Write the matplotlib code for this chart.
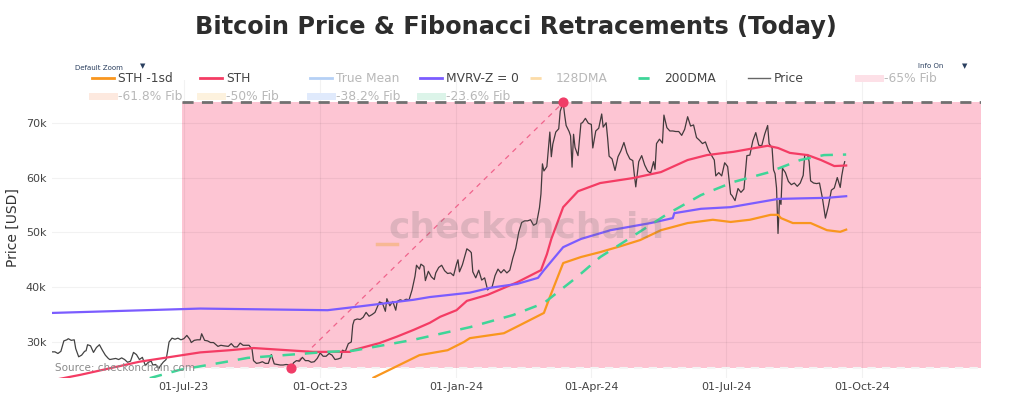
import pandas as pd
import matplotlib.pyplot as plt
import matplotlib.dates as mdates
from matplotlib.lines import Line2D

# Data (values in thousands of USD)

price_dates = [
    "2023-04-03", "2023-04-05", "2023-04-07", "2023-04-09", "2023-04-11", "2023-04-13", "2023-04-14",
    "2023-04-16", "2023-04-18", "2023-04-19", "2023-04-21", "2023-04-23", "2023-04-25", "2023-04-26",
    "2023-04-27", "2023-04-29", "2023-05-01", "2023-05-03", "2023-05-05", "2023-05-07", "2023-05-09",
    "2023-05-11", "2023-05-12", "2023-05-14", "2023-05-16", "2023-05-18", "2023-05-20", "2023-05-22",
    "2023-05-24", "2023-05-26", "2023-05-28", "2023-05-30", "2023-06-01", "2023-06-03", "2023-06-05",
    "2023-06-07", "2023-06-09", "2023-06-10", "2023-06-12", "2023-06-14", "2023-06-15", "2023-06-17",
    "2023-06-19", "2023-06-20", "2023-06-21", "2023-06-23", "2023-06-25", "2023-06-27", "2023-06-29",
    "2023-07-01", "2023-07-03", "2023-07-05", "2023-07-06", "2023-07-08", "2023-07-10", "2023-07-12",
    "2023-07-13", "2023-07-15", "2023-07-17", "2023-07-19", "2023-07-21", "2023-07-24", "2023-07-26",
    "2023-07-28", "2023-07-31", "2023-08-02", "2023-08-04", "2023-08-06", "2023-08-08", "2023-08-10",
    "2023-08-12", "2023-08-14", "2023-08-16", "2023-08-17", "2023-08-19", "2023-08-21", "2023-08-23",
    "2023-08-25", "2023-08-27", "2023-08-29", "2023-08-31", "2023-09-02", "2023-09-04", "2023-09-06",
    "2023-09-08", "2023-09-10", "2023-09-11", "2023-09-13", "2023-09-15", "2023-09-17", "2023-09-19",
    "2023-09-21", "2023-09-23", "2023-09-25", "2023-09-27", "2023-09-29", "2023-10-01", "2023-10-03",
    "2023-10-05", "2023-10-07", "2023-10-09", "2023-10-11", "2023-10-13", "2023-10-15", "2023-10-16",
    "2023-10-18", "2023-10-20", "2023-10-22", "2023-10-23", "2023-10-24", "2023-10-26", "2023-10-28",
    "2023-10-30", "2023-11-01", "2023-11-03", "2023-11-05", "2023-11-07", "2023-11-09", "2023-11-10",
    "2023-11-12", "2023-11-14", "2023-11-15", "2023-11-17", "2023-11-19", "2023-11-21", "2023-11-22",
    "2023-11-24", "2023-11-26", "2023-11-28", "2023-11-30", "2023-12-02", "2023-12-04", "2023-12-05",
    "2023-12-07", "2023-12-08", "2023-12-10", "2023-12-11", "2023-12-13", "2023-12-15", "2023-12-17",
    "2023-12-18", "2023-12-20", "2023-12-22", "2023-12-24", "2023-12-26", "2023-12-28", "2023-12-30",
    "2024-01-01", "2024-01-02", "2024-01-03", "2024-01-05", "2024-01-08", "2024-01-10", "2024-01-11",
    "2024-01-12", "2024-01-14", "2024-01-16", "2024-01-18", "2024-01-20", "2024-01-22", "2024-01-23",
    "2024-01-25", "2024-01-27", "2024-01-29", "2024-01-31", "2024-02-02", "2024-02-04", "2024-02-06",
    "2024-02-08", "2024-02-10", "2024-02-12", "2024-02-14", "2024-02-16", "2024-02-18", "2024-02-20",
    "2024-02-22", "2024-02-24", "2024-02-26", "2024-02-27", "2024-02-28", "2024-02-29", "2024-03-02",
    "2024-03-04", "2024-03-05", "2024-03-06", "2024-03-08", "2024-03-10", "2024-03-11", "2024-03-13",
    "2024-03-14", "2024-03-15", "2024-03-17", "2024-03-18", "2024-03-19", "2024-03-20", "2024-03-21",
    "2024-03-23", "2024-03-25", "2024-03-26", "2024-03-28", "2024-03-30", "2024-04-01", "2024-04-02",
    "2024-04-04", "2024-04-06", "2024-04-08", "2024-04-09", "2024-04-11", "2024-04-12", "2024-04-13",
    "2024-04-15", "2024-04-17", "2024-04-19", "2024-04-21", "2024-04-23", "2024-04-25", "2024-04-27",
    "2024-04-29", "2024-04-30", "2024-05-01", "2024-05-03", "2024-05-05", "2024-05-07", "2024-05-09",
    "2024-05-11", "2024-05-13", "2024-05-14", "2024-05-15", "2024-05-17", "2024-05-19", "2024-05-20",
    "2024-05-22", "2024-05-24", "2024-05-26", "2024-05-28", "2024-05-30", "2024-06-01", "2024-06-03",
    "2024-06-05", "2024-06-07", "2024-06-09", "2024-06-11", "2024-06-13", "2024-06-15", "2024-06-17",
    "2024-06-19", "2024-06-21", "2024-06-23", "2024-06-24", "2024-06-26", "2024-06-28", "2024-06-30",
    "2024-07-02", "2024-07-04", "2024-07-05", "2024-07-07", "2024-07-09", "2024-07-11", "2024-07-13",
    "2024-07-15", "2024-07-17", "2024-07-19", "2024-07-21", "2024-07-23", "2024-07-25", "2024-07-27",
    "2024-07-29", "2024-07-30", "2024-08-01", "2024-08-02", "2024-08-03", "2024-08-04", "2024-08-05",
    "2024-08-06", "2024-08-07", "2024-08-08", "2024-08-10", "2024-08-12", "2024-08-14", "2024-08-16",
    "2024-08-18", "2024-08-20", "2024-08-22", "2024-08-23", "2024-08-25", "2024-08-26", "2024-08-27",
    "2024-08-29", "2024-08-31", "2024-09-02", "2024-09-04", "2024-09-06", "2024-09-08", "2024-09-10",
    "2024-09-12", "2024-09-14", "2024-09-16", "2024-09-17", "2024-09-18", "2024-09-19",
]
price_vals = [
    28.2, 28.2, 27.9, 28.3, 30.2, 30.4, 30.6,
    30.3, 30.4, 28.8, 27.3, 27.6, 28.3, 28.4,
    29.5, 29.3, 28.1, 29.0, 29.5, 28.5, 27.6,
    27.0, 26.8, 26.9, 27.0, 26.8, 27.1, 26.8,
    26.3, 26.5, 28.1, 27.7, 26.8, 27.2, 25.7,
    26.3, 26.5, 25.8, 25.9, 25.1, 25.6, 26.3,
    26.8, 28.3, 30.0, 30.7, 30.5, 30.7, 30.4,
    30.6, 31.2, 30.5, 29.9, 30.3, 30.4, 30.4,
    31.5, 30.3, 30.2, 29.9, 29.9, 29.2, 29.4,
    29.3, 29.2, 29.7, 29.1, 29.1, 29.8, 29.4,
    29.4, 29.4, 28.7, 26.6, 26.1, 26.2, 26.4,
    26.1, 26.1, 27.7, 26.0, 25.9, 25.8, 25.8,
    25.9, 25.8, 25.0, 26.2, 26.6, 26.5, 27.2,
    26.6, 26.6, 26.3, 26.4, 27.0, 28.0, 27.4,
    27.4, 27.9, 27.6, 26.8, 26.9, 27.1, 28.5,
    28.3, 29.7, 30.0, 33.1, 34.0, 34.2, 34.1,
    34.5, 35.4, 34.7, 35.0, 35.4, 36.7, 37.3,
    37.1, 35.6, 37.9, 36.6, 37.4, 35.8, 37.4,
    37.7, 37.5, 37.8, 37.7, 39.5, 42.0, 44.0,
    43.3, 44.2, 43.8, 41.2, 42.9, 41.9, 41.4,
    42.6, 43.6, 44.0, 43.0, 42.5, 42.6, 42.1,
    44.2, 45.0, 42.8, 44.1, 47.0, 46.6, 46.3,
    42.8, 41.7, 43.1, 41.3, 41.7, 39.5, 39.8,
    40.0, 42.1, 43.3, 42.6, 43.2, 42.6, 43.1,
    45.3, 47.1, 50.0, 51.8, 52.1, 52.1, 52.3,
    51.3, 51.6, 54.5, 57.0, 62.5, 61.2, 62.0,
    68.3, 63.8, 66.1, 68.3, 68.9, 72.1, 73.7,
    71.4, 69.5, 68.4, 67.6, 61.9, 67.9, 65.5,
    64.0, 69.9, 70.0, 70.8, 69.9, 69.7, 65.4,
    68.5, 69.0, 71.6, 69.2, 70.0, 67.2, 63.9,
    63.4, 61.3, 63.8, 64.9, 66.4, 64.5, 63.4,
    63.1, 60.6, 58.3, 62.9, 64.0, 62.3, 61.2,
    60.8, 62.9, 61.5, 66.2, 67.0, 66.3, 71.4,
    69.1, 68.5, 68.5, 68.4, 68.4, 67.7, 68.8,
    71.1, 69.4, 69.6, 67.3, 66.8, 66.2, 66.5,
    65.0, 64.1, 63.2, 60.3, 60.9, 60.3, 62.7,
    62.0, 57.0, 56.7, 55.8, 58.0, 57.3, 57.9,
    64.0, 64.1, 66.7, 68.2, 65.9, 65.8, 67.9,
    69.5, 66.2, 65.4, 61.4, 60.7, 58.1, 49.8,
    56.0, 55.1, 61.7, 60.9, 59.3, 58.7, 59.0,
    58.4, 59.0, 60.4, 64.1, 64.2, 62.9, 59.4,
    59.0, 58.9, 59.0, 56.2, 52.6, 54.8, 57.7,
    58.1, 60.0, 58.2, 60.3, 61.8, 62.9,
]

sth_dates = [
    "2023-04-03", "2023-04-22", "2023-06-01", "2023-06-30", "2023-07-12", "2023-08-01", "2023-08-17",
    "2023-09-26", "2023-10-21", "2023-10-23", "2023-11-10", "2023-11-22", "2023-12-03", "2023-12-14",
    "2023-12-21", "2024-01-01", "2024-01-08", "2024-01-22", "2024-02-11", "2024-02-27", "2024-03-02",
    "2024-03-05", "2024-03-13", "2024-03-23", "2024-04-07", "2024-04-29", "2024-05-18", "2024-06-05",
    "2024-06-18", "2024-07-06", "2024-07-29", "2024-08-05", "2024-08-13", "2024-08-25", "2024-09-03",
    "2024-09-12", "2024-09-20",
]
sth_vals = [
    23.0, 24.0, 26.4, 27.6, 28.1, 28.5, 28.9,
    28.2, 28.2, 28.5, 29.8, 31.0, 32.2, 33.5,
    34.6, 35.8, 37.5, 38.6, 40.9, 43.1, 46.0,
    48.8, 54.6, 57.5, 59.0, 59.9, 61.0, 63.2,
    64.1, 64.7, 65.8, 65.4, 64.5, 64.1, 63.2,
    62.1, 62.2,
]

sth_1sd_dates = [
    "2023-11-06", "2023-12-07", "2023-12-26", "2024-01-06", "2024-01-10", "2024-02-02", "2024-02-13",
    "2024-02-29", "2024-03-04", "2024-03-13", "2024-03-25", "2024-04-07", "2024-04-21", "2024-05-04",
    "2024-05-18", "2024-06-05", "2024-06-22", "2024-07-04", "2024-07-17", "2024-07-31", "2024-08-05",
    "2024-08-07", "2024-08-15", "2024-08-27", "2024-09-07", "2024-09-16", "2024-09-20",
]
sth_1sd_vals = [
    23.5, 27.6, 28.5, 30.0, 30.7, 31.6, 33.1,
    35.3, 38.2, 44.4, 45.5, 46.4, 47.5, 48.6,
    50.4, 51.7, 52.3, 51.9, 52.3, 53.2, 53.2,
    52.6, 51.7, 51.7, 50.4, 50.1, 50.5,
]

mvrv_dates = [
    "2023-04-03", "2023-06-30", "2023-07-12", "2023-10-06", "2023-10-28", "2023-12-03", "2023-12-14",
    "2024-01-10", "2024-01-24", "2024-02-11", "2024-02-25", "2024-02-29", "2024-03-13", "2024-03-25",
    "2024-04-14", "2024-05-11", "2024-05-26", "2024-05-27", "2024-06-14", "2024-07-04", "2024-08-05",
    "2024-08-20", "2024-09-07", "2024-09-20",
]
mvrv_vals = [
    35.3, 36.0, 36.1, 35.8, 36.5, 37.7, 38.2,
    39.0, 39.9, 40.6, 41.7, 43.1, 47.3, 48.8,
    50.4, 51.7, 52.6, 53.5, 54.3, 54.6, 56.1,
    56.2, 56.3, 56.6,
]

dma200_dates = [
    "2023-06-08", "2023-06-28", "2023-08-01", "2023-08-13", "2023-10-06", "2023-10-23", "2023-12-03",
    "2024-01-10", "2024-02-08", "2024-02-29", "2024-03-23", "2024-04-07", "2024-04-25", "2024-05-22",
    "2024-06-14", "2024-07-06", "2024-07-29", "2024-08-20", "2024-09-05", "2024-09-20",
]
dma200_vals = [
    23.4, 24.9, 26.5, 27.1, 28.2, 28.4, 30.4,
    32.7, 34.9, 37.1, 42.0, 45.5, 48.6, 53.3,
    56.8, 59.2, 60.9, 63.2, 64.1, 64.2,
]

# Fibonacci range: cycle low -> cycle high
fib_start = "2023-06-30"
fib_low_date, fib_low = "2023-09-11", 25.2
fib_high_date, fib_high = "2024-03-13", 73.7

x_ticks = ["2023-07-01", "2023-10-01", "2024-01-01", "2024-04-01", "2024-07-01", "2024-10-01"]
y_ticks = [30, 40, 50, 60, 70]
x_range = ["2023-04-03", "2024-12-20"]
y_range = [23.43, 77.8]

W, H = 1024, 400


def fx(px):
    return px / W


def fy(py):
    return 1 - py / H


fig = plt.figure(figsize=(W / 100, H / 100), dpi=100)
ax = fig.add_axes([fx(52), fy(378), (981 - 52) / W, (378 - 80) / H])

d = pd.to_datetime
x0, x1 = d(x_range[0]), d(x_range[1])

# Fib zone + dashed bounds
ax.fill_between([d(fib_start), x1], fib_low, fib_high, color="#fdc5d3", lw=0, zorder=1)
ax.plot([d(fib_start), x1], [fib_high, fib_high], color="#707070", lw=2, dashes=(4, 3), zorder=2)
ax.plot([d(fib_start), x1], [fib_low, fib_low], color="#f4f4f4", lw=1.5, dashes=(4, 3), zorder=2)
ax.plot([d(fib_low_date), d(fib_high_date)], [fib_low, fib_high], color="#f0648c", lw=0.9,
        dashes=(4, 4), zorder=2)

# Series
ax.plot(d(price_dates), price_vals, color="#222222", lw=0.9, alpha=0.85, zorder=3)
ax.plot(d(sth_1sd_dates), sth_1sd_vals, color="#f9961e", lw=1.6, zorder=4)
ax.plot(d(sth_dates), sth_vals, color="#f43c64", lw=1.6, zorder=4)
ax.plot(d(mvrv_dates), mvrv_vals, color="#7b5cff", lw=1.6, zorder=4)
ax.plot(d(dma200_dates), dma200_vals, color="#3ed598", lw=1.8, dashes=(5, 4), zorder=4)
ax.scatter([d(fib_low_date), d(fib_high_date)], [fib_low, fib_high], s=40, color="#f03c67",
           zorder=6, clip_on=False)

# Axes
ax.set_xlim(x0, x1)
ax.set_ylim(*y_range)
ax.set_xticks(d(x_ticks))
ax.xaxis.set_major_formatter(mdates.DateFormatter("%d-%b-%y"))
ax.set_yticks(y_ticks)
ax.set_yticklabels([f"{v}k" for v in y_ticks])
ax.tick_params(length=0, labelsize=8, colors="#444444")
ax.tick_params(axis="y", pad=4)
ax.tick_params(axis="x", pad=3)
ax.grid(color="#000000", alpha=0.05, lw=0.8)
for s in ax.spines.values():
    s.set_visible(False)

fig.text(fx(13), fy(228), "Price [USD]", rotation=90, ha="center", va="center",
         fontsize=10, color="#333333")

# Title
fig.text(fx(516), fy(27), "Bitcoin Price & Fibonacci Retracements (Today)", ha="center",
         va="center", fontsize=17.3, fontweight="bold", color="#2d2d2d")

# Watermark + source
fig.text(fx(527), fy(228), "checkonchain", ha="center", va="center", fontsize=26,
         fontweight="bold", color="#707070", alpha=0.22)
fig.text(fx(55), fy(368), "Source: checkonchain.com", ha="left", va="center", fontsize=7.5,
         color="#8a8a8a")
fig.add_artist(Line2D([fx(377), fx(397)], [fy(244), fy(244)], color="#f7b894", lw=2.5))

# Legend (hand placed, plotly style)
legend = [
    (92, 78, "#f9961e", "STH -1sd", True, "solid"),
    (200, 78, "#f43c64", "STH", True, "solid"),
    (310, 78, "#b5d0f5", "True Mean", False, "solid"),
    (420, 78, "#7b5cff", "MVRV-Z = 0", True, "solid"),
    (530, 78, "#fcdca8", "128DMA", False, "dash"),
    (638, 78, "#3ed598", "200DMA", True, "dash"),
    (748, 78, "#666666", "Price", True, "thin"),
    (858, 78, "#fde0e7", "-65% Fib", False, "thick"),
    (92, 96, "#fde9df", "-61.8% Fib", False, "thick"),
    (200, 96, "#fdf2de", "-50% Fib", False, "thick"),
    (310, 96, "#e0eafc", "-38.2% Fib", False, "thick"),
    (420, 96, "#dcf4e9", "-23.6% Fib", False, "thick"),
]
for x, y, col, lab, on, style in legend:
    kw = {"solid": dict(lw=2), "dash": dict(lw=2, dashes=(4, 4)),
          "thin": dict(lw=1), "thick": dict(lw=5)}[style]
    fig.add_artist(Line2D([fx(x), fx(x + 22)], [fy(y), fy(y)], color=col, **kw))
    fig.text(fx(x + 26), fy(y), lab, ha="left", va="center", fontsize=8.8,
             color="#444444" if on else "#b8b8b8")

# Plotly buttons
fig.text(fx(75), fy(68), "Default Zoom", fontsize=5, color="#2a3f5f", va="center")
fig.text(fx(143), fy(66), "▼", fontsize=5, color="#2a3f5f", va="center", ha="center")
fig.text(fx(918), fy(66), "Info On", fontsize=5, color="#2a3f5f", va="center")
fig.text(fx(965), fy(66), "▼", fontsize=5, color="#2a3f5f", va="center", ha="center")

fig.savefig("out.png", dpi=100, facecolor="white")
